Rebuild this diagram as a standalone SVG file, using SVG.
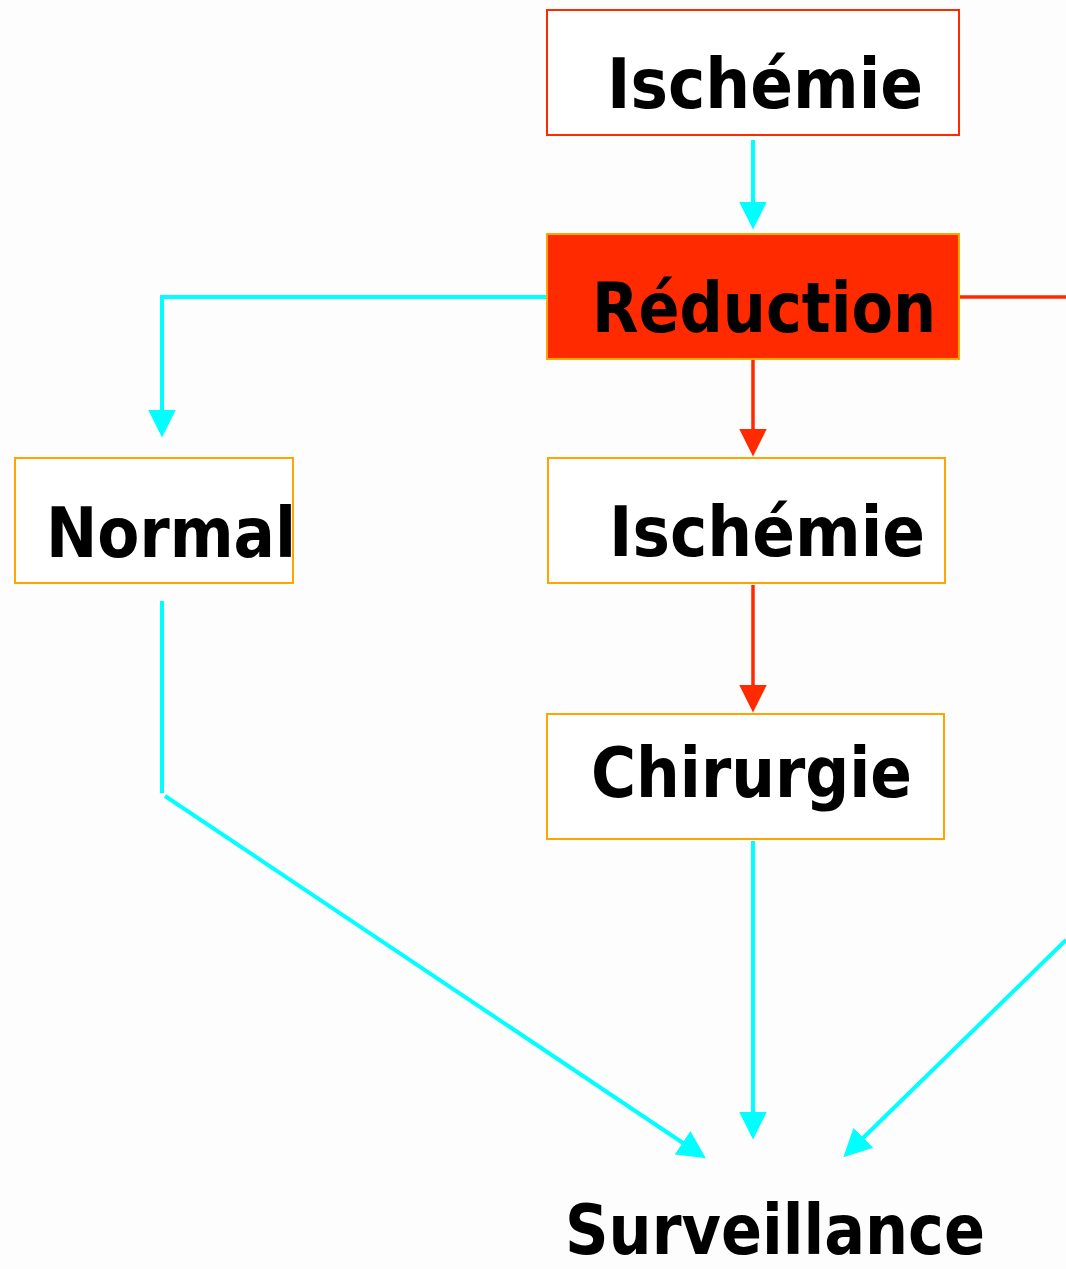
<svg xmlns="http://www.w3.org/2000/svg" width="1066" height="1269" viewBox="0 0 1066 1269">
<style>
.box{fill:#ffffff;stroke:#FFA500;stroke-width:2}
.lbl{font-family:"DejaVu Sans","Noto Sans",sans-serif;font-weight:bold;font-size:70px;fill:#000}
.cy{stroke:#00FFFF;stroke-width:4;fill:none}
.rd{stroke:#FF2A00;stroke-width:3.5;fill:none}
</style>
<defs>
<marker id="ac" viewBox="0 0 28 28" refX="0.5" refY="14" markerWidth="28" markerHeight="28" markerUnits="userSpaceOnUse" orient="auto"><path d="M0,0 L28,14 L0,28 z" fill="#00FFFF"/></marker>
<marker id="ar" viewBox="0 0 28 28" refX="0.5" refY="14" markerWidth="28" markerHeight="28" markerUnits="userSpaceOnUse" orient="auto"><path d="M0,0 L28,14 L0,28 z" fill="#FF2A00"/></marker>
<clipPath id="cn"><rect x="16" y="459" width="277" height="124"/></clipPath>
</defs>
<rect width="1066" height="1269" fill="#FDFDFD"/>
<g id="connectors">
<path class="cy" d="M753,140 V202" marker-end="url(#ac)"/>
<path class="cy" d="M547,297 H162 V410" marker-end="url(#ac)"/>
<path class="rd" d="M960,297 H1066"/>
<path class="rd" d="M753,360 V429" marker-end="url(#ar)"/>
<path class="rd" d="M753,585 V685" marker-end="url(#ar)"/>
<path class="cy" d="M753,841 V1112" marker-end="url(#ac)"/>
<path class="cy" d="M162,601 V793"/>
<path class="cy" d="M165,796 L683,1143" marker-end="url(#ac)"/>
<path class="cy" d="M1066,940 L863,1138" marker-end="url(#ac)"/>
</g>
<g id="ischemie1">
<rect x="547" y="10" width="412" height="125" fill="#ffffff" stroke="#FF2A00" stroke-width="2"/>
<text class="lbl" x="607" y="108" textLength="316" lengthAdjust="spacingAndGlyphs">Ischémie</text>
</g>
<g id="reduction">
<rect x="547" y="234" width="412" height="125" fill="#FF2A00" stroke="#FFA500" stroke-width="2"/>
<text class="lbl" x="592" y="332" font-size="74" textLength="344" lengthAdjust="spacingAndGlyphs">Réduction</text>
</g>
<g id="normal">
<rect class="box" x="15" y="458" width="278" height="125"/>
<text class="lbl" x="46" y="557" textLength="250" lengthAdjust="spacingAndGlyphs" clip-path="url(#cn)">Normal</text>
</g>
<g id="ischemie2">
<rect class="box" x="548" y="458" width="397" height="125"/>
<text class="lbl" x="609" y="556" textLength="316" lengthAdjust="spacingAndGlyphs">Ischémie</text>
</g>
<g id="chirurgie">
<rect class="box" x="547" y="714" width="397" height="125"/>
<text class="lbl" x="591" y="797" textLength="321" lengthAdjust="spacingAndGlyphs">Chirurgie</text>
</g>
<g id="surveillance">
<text class="lbl" x="565" y="1254" textLength="420" lengthAdjust="spacingAndGlyphs">Surveillance</text>
</g>
</svg>
